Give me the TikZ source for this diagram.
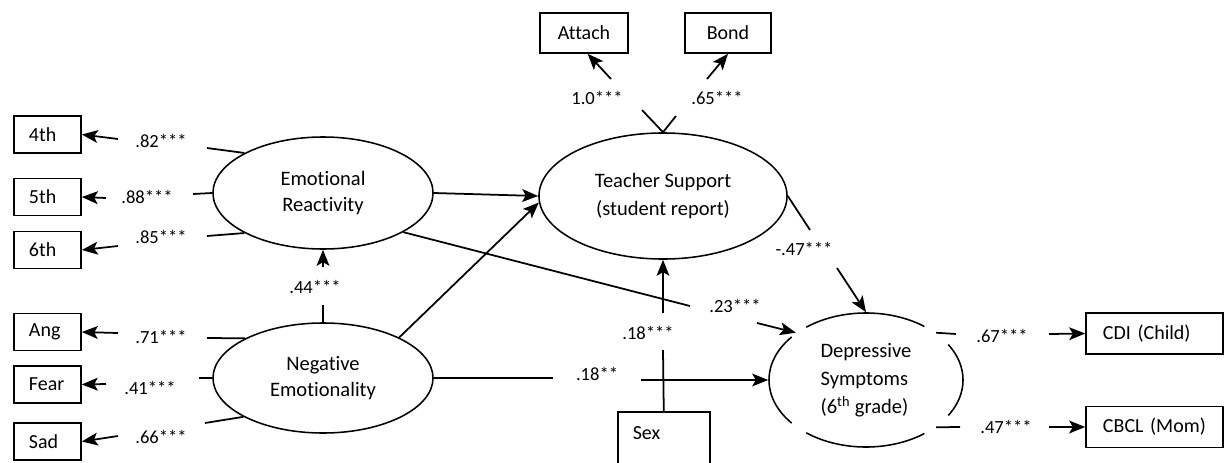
\documentclass[tikz,border=0pt]{standalone}
\usepackage{fontspec}
\setmainfont{Carlito}[Ligatures=NoCommon]
\usetikzlibrary{arrows.meta,shapes.geometric}
\tikzset{
  ln/.style={line width=1.25pt, draw=black},
  arr/.style={ln, -{Stealth[length=0.4cm,width=0.32cm,inset=0.09cm]}},
  lat/.style={ellipse, draw, line width=1.1pt, inner sep=0, align=center, font=\fontsize{14.6}{18.5}\selectfont},
  obs/.style={draw, line width=1.1pt, font=\fontsize{14.2}{17}\selectfont},
  ibox/.style={obs, text width=0.925cm, align=left, inner xsep=0.375cm, inner ysep=0, minimum height=0.925cm},
  rbox/.style={obs, text width=2.575cm, align=left, inner xsep=0.425cm, inner ysep=0, minimum height=1.02cm},
  tbox/.style={obs, align=center, inner sep=0, minimum height=1cm},
  lab/.style={font=\fontsize{13.2}{15}\selectfont, inner sep=0},
}
\begin{document}
\begin{tikzpicture}[x=0.025cm,y=-0.025cm]
\useasboundingbox (0,0) rectangle (1225,462);

% latent variables
\node[lat, minimum width=5.5cm, minimum height=2.8cm] (ER) at (323,193) {Emotional\\Reactivity};
\node[lat, minimum width=5.5cm, minimum height=2.75cm] (NE) at (323,378) {Negative\\Emotionality};
\node[lat, minimum width=6.2cm, minimum height=3.15cm, font=\fontsize{14.6}{20.5}\selectfont] (TS) at (663,196) {Teacher Support\\(student report)};
\node[lat, draw=none, align=left, minimum width=4.85cm, minimum height=3.35cm, font=\fontsize{14.6}{20}\selectfont] (DS) at (866,380) {Depressive\\Symptoms\\(6\textsuperscript{th} grade)};
\draw[ln, line width=1.1pt] (DS.center) ++(53:2.425cm and 1.675cm) arc[start angle=53,end angle=128,x radius=2.425cm,y radius=1.675cm];
\draw[ln, line width=1.1pt] (DS.center) ++(140:2.425cm and 1.675cm) arc[start angle=140,end angle=220,x radius=2.425cm,y radius=1.675cm];
\draw[ln, line width=1.1pt] (DS.center) ++(232:2.425cm and 1.675cm) arc[start angle=232,end angle=307,x radius=2.425cm,y radius=1.675cm];
\draw[ln, line width=1.1pt] (DS.center) ++(328:2.425cm and 1.675cm) arc[start angle=328,end angle=392,x radius=2.425cm,y radius=1.675cm];

% observed boxes
\node[ibox] (b4) at (47.5,134.5) {4th};
\node[ibox] (b5) at (47.5,197) {5th};
\node[ibox] (b6) at (47.5,250) {6th};
\node[ibox] (bA) at (47.5,332) {Ang};
\node[ibox] (bF) at (47.5,384.5) {Fear};
\node[ibox] (bS) at (47.5,441.5) {Sad};
\node[tbox, minimum width=2.2cm] (Att) at (584,33) {Attach};
\node[tbox, minimum width=2.15cm] (Bnd) at (728,33) {Bond};
\node[rbox] (CDI) at (1154.5,333.5) {CDI (Child)};
\node[rbox] (CBCL) at (1154.5,427) {CBCL (Mom)};
\node[obs, anchor=north west, text width=1.55cm, align=left, inner xsep=0.375cm, inner ysep=0.36cm, text depth=1.5cm] (Sex) at (617,411) {Sex};

% gap coordinates
\coordinate (g4a) at (207,148); \coordinate (g4b) at (118,139);
\coordinate (g5a) at (193,194); \coordinate (g5b) at (106,198);
\coordinate (g6a) at (207,236); \coordinate (g6b) at (118,246);
\coordinate (gAa) at (207,338); \coordinate (gAb) at (118,333);
\coordinate (gFa) at (199,378); \coordinate (gFb) at (106,384);
\coordinate (gSa) at (205,423); \coordinate (gSb) at (118,436);
\coordinate (g44a) at (323,305); \coordinate (g44b) at (323,267);
\coordinate (gAta) at (642,110); \coordinate (gAtb) at (611,79);
\coordinate (gBda) at (676,116); \coordinate (gBdb) at (707,79);
\coordinate (g23a) at (690,306); \coordinate (g23b) at (757,323);
\coordinate (g18a) at (553,378); \coordinate (g18b) at (641,380);
\coordinate (gSxa) at (663,350); \coordinate (gSxb) at (663,313);
\coordinate (g47a) at (810,230); \coordinate (g47b) at (837,268);
\coordinate (g67a) at (956,334); \coordinate (g67b) at (1049,334);
\coordinate (gMa) at (960,427); \coordinate (gMb) at (1049,427);

% loadings
\draw[ln] (ER.153) -- (g4a); \draw[arr] (g4b) -- (b4.east);
\draw[ln] (ER.west) -- (g5a); \draw[arr] (g5b) -- (b5.east);
\draw[ln] (ER.207) -- (g6a); \draw[arr] (g6b) -- (b6.east);
\draw[ln] (NE.153) -- (gAa); \draw[arr] (gAb) -- (bA.east);
\draw[ln] (NE.west) -- (gFa); \draw[arr] (gFb) -- (bF.east);
\draw[ln] (NE.206) -- (gSa); \draw[arr] (gSb) -- (bS.east);
\draw[ln] (TS.north) -- (gAta); \draw[arr] (gAtb) -- (Att.-80);
\draw[ln] (TS.north) -- (gBda); \draw[arr] (gBdb) -- (Bnd.south);
\draw[ln] (DS.34) -- (g67a); \draw[arr] (g67b) -- (CDI.west);
\draw[ln] (DS.-34) -- (gMa); \draw[arr] (gMb) -- (CBCL.west);

% structural paths
\draw[ln] (NE.north) -- (g44a); \draw[arr] (g44b) -- (ER.south);
\draw[arr] (ER.east) -- (TS.west);
\draw[arr] (NE.28) -- (TS.183);
\draw[ln] (ER.-26) -- (g23a); \draw[arr] (g23b) -- (DS.146);
\draw[ln] (NE.east) -- (g18a); \draw[arr] (g18b) -- (DS.west);
\draw[ln] (Sex.north) -- (gSxa); \draw[arr] (gSxb) -- (TS.south);
\draw[ln] (TS.east) -- (g47a); \draw[arr] (g47b) -- (DS.north);

% labels
\node[lab] (l82) at (161,141) {.82***};
\node[lab] (l88) at (147,197) {.88***};
\node[lab] (l85) at (161,237) {.85***};
\node[lab] (l71) at (161,337) {.71***};
\node[lab] (l41) at (150,388) {.41***};
\node[lab] (l66) at (161,437) {.66***};
\node[lab] (l44) at (315,287) {.44***};
\node[lab] (l10) at (597,98) {1.0***};
\node[lab] (l65) at (717,98) {.65***};
\node[lab] (l23) at (735,306) {.23***};
\node[lab] (l18s) at (648,333) {.18***};
\node[lab] (l18) at (597,374) {.18**};
\node[lab] (l47) at (804,249) {-.47***};
\node[lab] (l67) at (1002,336) {.67***};
\node[lab] (l47m) at (1006,427) {.47***};
\end{tikzpicture}
\end{document}
